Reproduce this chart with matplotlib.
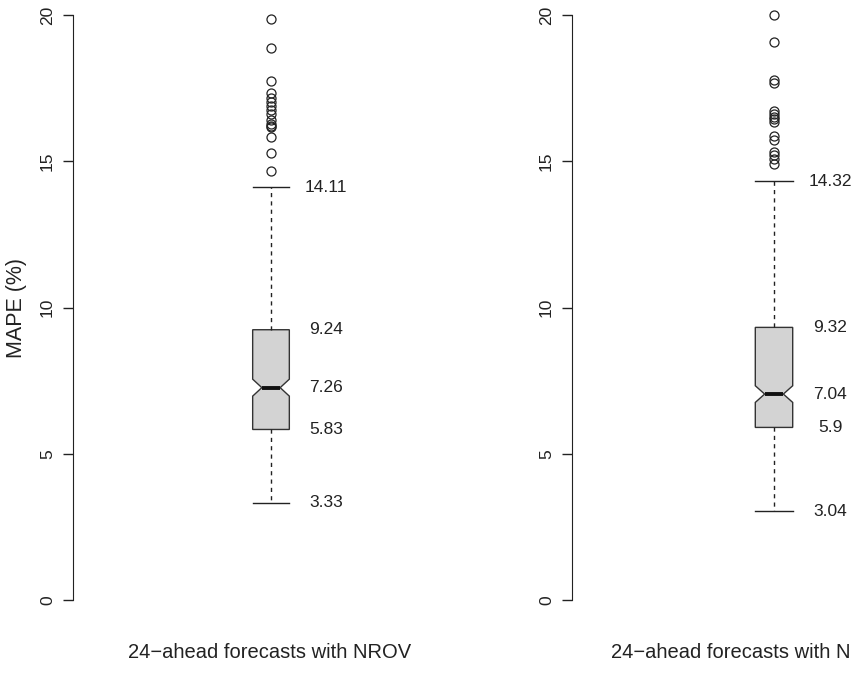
import matplotlib
matplotlib.use("Agg")
import matplotlib.pyplot as plt

plt.rcParams['font.family'] = ['Liberation Sans', 'DejaVu Sans']

# box statistics
titles = ["24−ahead forecasts with NROV", "24−ahead forecasts with N"]
q1 = [5.83, 5.90]
med = [7.26, 7.04]
q3 = [9.24, 9.32]
whislo = [3.33, 3.04]
whishi = [14.11, 14.32]
notch_half = [0.29, 0.285]
fliers = [
    [19.88, 18.88, 17.74, 17.32, 17.17, 17.03, 16.88, 16.75, 16.60, 16.40,
     16.27, 16.21, 16.17, 15.83, 15.27, 14.67],
    [20.00, 19.08, 17.77, 17.68, 16.71, 16.61, 16.52, 16.43, 16.34, 15.86,
     15.72, 15.32, 15.21, 15.06, 14.92],
]
yticks = [0, 5, 10, 15, 20]

W, H = 851, 687
fig = plt.figure(figsize=(W / 100, H / 100), dpi=100)

# axes boxes in pixels: left, right, plot top/bottom
panels = [(73, 469), (572, 976)]
top_px, bot_px = -8.4, 623.4

for i, (x0, x1) in enumerate(panels):
    ax = fig.add_axes([x0 / W, (H - bot_px) / H, (x1 - x0) / W, (bot_px - top_px) / H])
    stats = [{
        "med": med[i], "q1": q1[i], "q3": q3[i],
        "whislo": whislo[i], "whishi": whishi[i],
        "fliers": fliers[i],
        "cilo": med[i] - notch_half[i], "cihi": med[i] + notch_half[i],
    }]
    ax.bxp(stats, positions=[1], widths=0.1, capwidths=0.1, shownotches=True,
           patch_artist=True,
           boxprops=dict(facecolor="#d3d3d3", edgecolor="#333333", linewidth=1.0),
           medianprops=dict(color="#111111", linewidth=2.8),
           whiskerprops=dict(color="#222222", linewidth=1.0, linestyle=(0, (3, 3))),
           capprops=dict(color="#222222", linewidth=1.0),
           flierprops=dict(marker="o", markerfacecolor="none", markeredgecolor="#222222",
                           markersize=6.5, markeredgewidth=0.9))
    for v in [q1[i], med[i], q3[i], whislo[i], whishi[i]]:
        ax.text(1.15, v, f"{v:g}", ha="center", va="center", fontsize=12.5, color="#222222")

    ax.set_xlim(0.46, 1.54)
    ax.set_ylim(-0.8, 20.8)
    ax.set_yticks(yticks)
    ax.set_yticklabels([str(t) for t in yticks], rotation=90, va="center", fontsize=12.5,
                       color="#222222")
    ax.tick_params(axis="y", length=7, width=1, pad=6, colors="#222222")
    ax.xaxis.set_visible(False)
    for s in ["top", "right", "bottom"]:
        ax.spines[s].set_visible(False)
    ax.spines["left"].set_bounds(0, 20)
    ax.spines["left"].set_color("#222222")
    ax.patch.set_visible(False)
    if i == 0:
        ax.set_ylabel("MAPE (%)", fontsize=15.5, color="#222222", labelpad=9)

fig.text(270 / W, (H - 652) / H, titles[0], ha="center", va="center", fontsize=14.5,
         color="#222222")
fig.text(611 / W, (H - 652) / H, titles[1], ha="left", va="center", fontsize=14.5,
         color="#222222")

fig.savefig("out.png", dpi=100)
